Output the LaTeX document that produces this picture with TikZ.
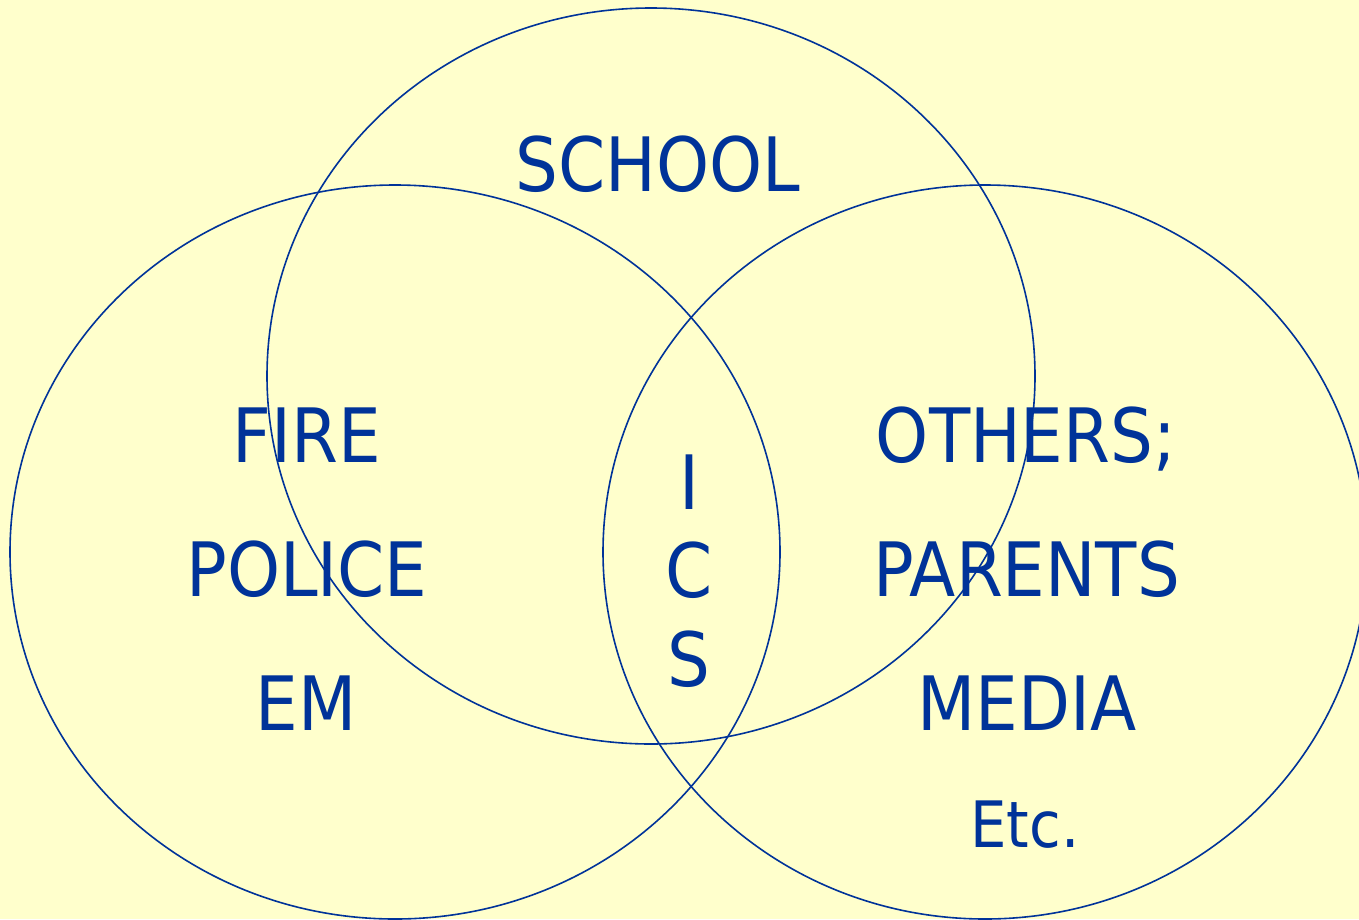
\documentclass[tikz,border=0pt]{standalone}
\usepackage{fontspec}
\setmainfont{DejaVu Sans Condensed}
\definecolor{bg}{HTML}{FFFFCC}
\definecolor{ink}{HTML}{003399}
\begin{document}
\begin{tikzpicture}[x=1pt,y=-1pt,
  ring/.style={draw=ink,line width=1.6pt},
  lbl/.style={text=ink,font=\fontsize{75}{75}\selectfont,anchor=base,inner sep=0pt},
  small/.style={text=ink,font=\fontsize{64}{64}\selectfont,anchor=base,inner sep=0pt}]
\fill[bg] (0,0) rectangle (1359,919);
\useasboundingbox (0,0) rectangle (1359,919);
\draw[ring] (651,376) ellipse [x radius=384, y radius=368];
\draw[ring] (395,552) ellipse [x radius=385, y radius=367];
\draw[ring] (985,552) ellipse [x radius=382, y radius=367];
\node[lbl] (school) at (658,191) {SCHOOL};
\node[lbl] (fire) at (307,462) {FIRE};
\node[lbl] (police) at (307,596) {POLICE};
\node[lbl] (em) at (306,730) {EM};
\node[lbl] (i) at (689,509) {I};
\node[lbl] (c) at (689,597) {C};
\node[lbl] (s) at (689,686) {S};
\node[lbl] (others) at (1026,462) {OTHERS;};
\node[lbl] (parents) at (1027,596) {PARENTS};
\node[lbl] (media) at (1027,730) {MEDIA};
\node[small] (etc) at (1025,847) {Etc.};
\end{tikzpicture}
\end{document}
